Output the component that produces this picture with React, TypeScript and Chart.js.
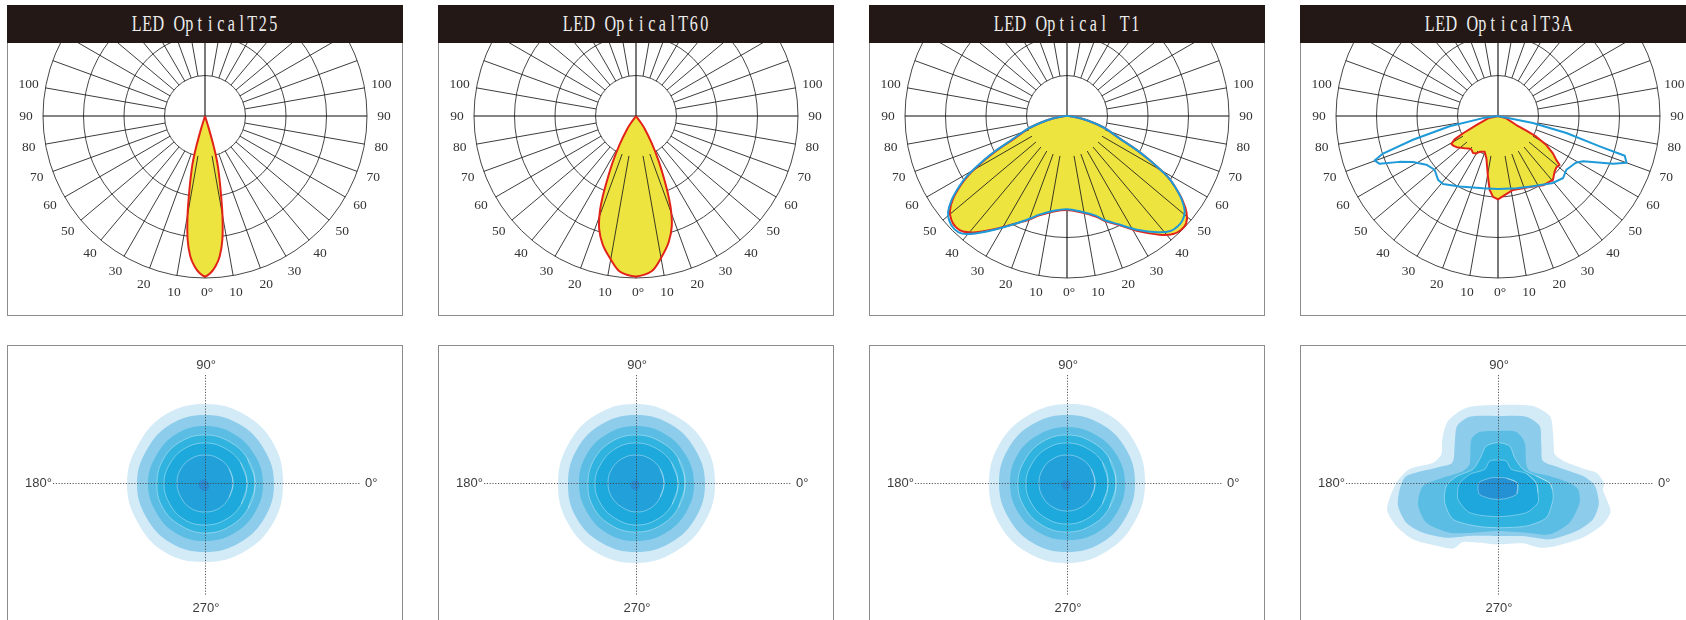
import React, { useEffect, useRef } from 'react';
import { Chart, registerables } from 'chart.js';

Chart.register(...registerables);

// ------------------------------------------------------------------
// DATA
// ------------------------------------------------------------------
const TITLES = ['LED OpticalT25', 'LED OpticalT60', 'LED Optical T1', 'LED OpticalT3A'];

// polar candela grid (top row), radial values in % of max
const POLAR_RINGS = [25, 50, 75, 100];
const POLAR_SPOKES = [10, 20, 30, 40, 50, 60, 70, 80, 100, 110, 120, 130, 140, 150, 160, 170,
  190, 200, 210, 220, 230, 240, 250, 260, 280, 290, 300, 310, 320, 330, 340, 350];
const POLAR_LABELS = [0, 10, 20, 30, 40, 50, 60, 70, 80, 90, 100];

// candela curves: angle from nadir (deg, + = right) and relative intensity
const T25_ANGLES = [-18, -17, -16, -15, -14, -12, -10, -8, -6, -4, -2, 0, 2, 4, 6, 8, 10, 12, 14, 15, 16, 17, 18];
const T25_C0 = [0, 8, 19, 28, 34, 46, 62, 77, 87, 93, 97, 99, 97, 93, 87, 77, 62, 46, 34, 28, 19, 8, 0];

const T60_ANGLES = [-40, -36, -34, -30, -27, -24.5, -22.5, -20.5, -18, -14.5, -10.5, -6, 0, 6, 10.5, 14.5, 18, 20.5, 22.5, 24.5, 27, 30, 34, 36, 40];
const T60_C0 = [0, 5, 10, 20, 31, 42, 53.5, 64, 73.5, 82, 89, 96.5, 99, 96, 88, 80.5, 71.5, 61.5, 51, 40.5, 30, 19.5, 10, 5, 0];

const T1_ANGLES = [-90, -85, -80, -76, -72, -67, -64, -62, -59, -57, -54, -51, -48, -45, -42, -38, -32, -25, -20, -16, -8,
  0, 8, 16, 20, 25, 32, 38, 42, 45, 48, 51, 54, 57, 59, 62, 64, 67, 72, 76, 80, 85, 90];
const T1_C0 = [0, 3, 9, 16, 25, 35, 48, 57, 71, 78, 87, 93, 96, 97, 96, 91, 82, 73, 68, 64, 59.5,
  58, 60, 64.5, 69, 74, 84, 93, 98, 99.5, 99, 95, 88, 79, 72, 57, 48, 35, 25, 16, 9, 3, 0];
const T1_C90 = [0, 3, 9, 16, 25.5, 36, 49, 58, 72, 79, 88, 94.5, 97.5, 98.5, 97.5, 92, 82.5, 73, 67.5, 63.5, 59,
  57.5, 59.5, 64, 68.5, 73.5, 83, 91, 95.5, 96.5, 96, 93.5, 87.5, 79, 72, 57, 48, 35, 25, 16, 9, 3, 0];

const T3A_C0_ANGLES = [-90, -77, -67.4, -63.7, -61.7, -59, -56, -53, -49, -46, -42, -38.7, -34, -30, -27, -20.5, -15.4, -9.4, -6.4, -3.5,
  0, 4.8, 11.5, 18, 24, 33, 40.7, 45.5, 48.5, 51.5, 53, 55.8, 59, 61.7, 62.6, 63.8, 74, 90];
const T3A_C0 = [0, 6.3, 14.5, 24, 30.4, 33.6, 33, 32, 30, 28.7, 27, 26.4, 27.5, 26.7, 24.8, 23.5, 27, 38, 46, 50,
  51.5, 49, 46.6, 47, 48, 51, 52, 49, 48, 48.6, 45, 41, 34.8, 26.9, 19.7, 12.6, 5.3, 0];
const T3A_C90_ANGLES = [-90, -82, -78, -74.4, -71.9, -70.2, -68, -65, -61.6, -55.8, -49.7, -43.3, -39, -28.6, -11.7,
  0, 14.3, 26.5, 39.4, 46.4, 51.8, 59, 62, 67.5, 70, 72.6, 73.4, 76, 78.7, 90];
const T3A_C90 = [0, 9.3, 30.5, 54.5, 74.7, 81, 78.8, 67, 59.7, 53.5, 51.3, 54, 54, 49.5, 45.6,
  45, 46, 48.5, 53.5, 55.5, 53.7, 56, 59.5, 77, 84.4, 82, 65.5, 43.5, 22, 0];

// isolux contours (bottom row): direction angles (deg) and radii, outer level first
const ISO_AXIS_LABELS = ['0°', '90°', '180°', '270°'];
const ISO_ANGLES = [0, 30, 60, 90, 120, 150, 180, 210, 240, 270, 300, 330];
const T25_ISO = [
  [78, 79, 79, 79, 79, 77, 78, 78, 80, 79, 79, 79],
  [69, 68, 68, 68, 68, 67, 68, 68, 69, 69, 69, 69],
  [58, 57, 57, 57, 57, 56, 57, 57, 58, 58, 58, 58],
  [50, 49, 48, 48, 48, 48, 48, 49, 49, 50, 50, 50],
  [42, 41, 40, 40, 40, 40, 41, 41, 42, 42, 42, 42],
  [28, 28, 28, 28, 28, 28, 28, 28, 29, 29, 29, 28],
  [3, 3, 3, 3, 4, 5, 6, 7, 8, 8, 7, 5],
];
const T60_ISO = [
  [79, 79, 78, 79, 79, 78, 78, 79, 80, 80, 79, 79],
  [69, 68, 68, 68, 68, 68, 68, 69, 69, 69, 69, 69],
  [58, 57, 57, 57, 57, 57, 57, 57, 58, 58, 58, 58],
  [49, 49, 48, 48, 48, 48, 48, 49, 49, 49, 49, 49],
  [42, 41, 40, 40, 40, 40, 41, 41, 41, 42, 42, 42],
  [28, 28, 28, 28, 28, 28, 28, 28, 28, 29, 29, 28],
  [3, 3, 3, 3, 3, 4, 5, 6, 7, 7, 6, 4],
];
const T1_ISO = [
  [78, 79, 80, 79, 78, 78, 78, 79, 80, 80, 79, 78],
  [68, 68, 68, 68, 68, 68, 68, 68, 69, 69, 69, 68],
  [58, 57, 56, 56, 56, 57, 57, 57, 57, 57, 58, 58],
  [49, 49, 48, 48, 48, 48, 49, 49, 49, 49, 49, 49],
  [41, 41, 40, 40, 40, 40, 41, 41, 41, 41, 41, 41],
  [28, 28, 28, 28, 28, 28, 28, 28, 28, 28, 28, 28],
  [3, 3, 3, 3, 3, 4, 5, 6, 7, 7, 6, 4],
];
const T3A_ISO_L1: [number, number][] = [[0, 106], [6, 99], [8.8, 89], [18.7, 69], [26.8, 63.5], [35, 68], [42.5, 74.6], [52, 84.6],
  [65.6, 84.6], [90, 78], [112.8, 81.7], [129, 79.7], [141.9, 70.8], [153, 63.5], [162.6, 68], [171, 89.4], [180, 101.7],
  [193.3, 114], [202.9, 110.4], [213.5, 102], [225.6, 88], [235.6, 79.6], [239.3, 68.6], [253, 62.4], [270, 61.3],
  [292.5, 65.3], [302.8, 77], [312.8, 85.8], [327.3, 101], [338.5, 112.8], [346, 116], [356.5, 105]];
const T3A_ISO_L2: [number, number][] = [[0, 95], [4.7, 85.3], [14, 63.5], [26, 50], [40.5, 57], [53.8, 70.6], [66.9, 72.1],
  [90, 67], [113, 72], [125.7, 70.2], [139.5, 57], [156, 50], [166, 63.5], [175.6, 92], [183.7, 98.5], [193, 102.6],
  [203.4, 99.9], [213.5, 90], [226.6, 75.2], [241.9, 60], [270, 53], [295, 58.6], [312.5, 76.4], [328.5, 91.9],
  [339, 101.7], [348.1, 103], [356.3, 98.5]];
const T3A_ISO_L3: [number, number][] = [[0, 71.7], [7.7, 52.1], [20.8, 33.9], [33.4, 33.9], [56.5, 48.4], [70.2, 54.2], [90, 52],
  [109.8, 54.2], [121.4, 51.2], [146.6, 34], [161, 37], [174.5, 55.3], [182.3, 75], [195, 82.8], [209, 81.9],
  [225.8, 69.3], [243.3, 55.6], [270, 48], [299.7, 57.2], [315.2, 72.8], [331, 81.9], [346.5, 84], [355.5, 80.3]];
const T3A_ISO_L4: [number, number][] = [[0, 51.7], [10.3, 39], [28.7, 28.5], [56.7, 30.3], [72.5, 38.8], [90, 40.3],
  [107.5, 38.8], [127.8, 30], [151.3, 28.5], [171.4, 42.1], [183.3, 51.8], [200.2, 56.8], [219, 57.8], [243.3, 48.2],
  [270, 44.7], [303.4, 51.5], [324.3, 59.5], [343.5, 57.4], [353.4, 54.7]];
const T3A_ISO_L5: [number, number][] = [[0, 38.3], [18.8, 29.9], [45.7, 19.1], [69.3, 23.5], [90, 23], [110.7, 23.5],
  [134.3, 19.1], [163, 29.6], [182, 39], [202.2, 43.2], [226.3, 41], [270, 33.7], [313.7, 41], [333.8, 44.6], [346.4, 41.1]];
const T3A_ISO_L6: [number, number][] = [[0, 19.3], [30, 9.7], [60, 6.4], [90, 5.3], [120, 6.4], [150, 9.7], [180, 19.3],
  [210, 21.8], [240, 17.7], [270, 16.3], [300, 17.7], [330, 21.8]];

// ------------------------------------------------------------------
// STYLE / LAYOUT
// ------------------------------------------------------------------
const YELLOW = '#EEE43F';
const RED = '#E2231A';
const BLUE = '#1E9AD8';
const ISO_COLORS = ['#D3EAF7', '#8DCDEB', '#5BBDE4', '#30B3DF', '#1EA9DC', '#22A0D9', '#2A8BD0'];
const T3A_ISO_COLORS = ['#D3EAF7', '#8DCDEB', '#5BBDE4', '#30B3DF', '#1EA7DC', '#2391D4'];
const PANEL_LEFT = [7, 438, 869, 1300];
const PANEL_W = 396;
const INNER_W = 394;
const TOP_H = 272;
const BOT_H = 274;
const BORDER = '1px solid #8c8c8c';

type Pt = { x: number; y: number };

const nadirToXY = (angles: number[], values: number[]): Pt[] =>
  angles.map((a, i) => {
    const t = (a * Math.PI) / 180;
    return { x: values[i] * Math.sin(t), y: -values[i] * Math.cos(t) };
  });

const isoToXY = (pairs: [number, number][]): Pt[] => {
  const pts = pairs.map(([a, r]) => {
    const t = (a * Math.PI) / 180;
    return { x: r * Math.cos(t), y: r * Math.sin(t) };
  });
  return [pts[pts.length - 1], ...pts, pts[0], pts[1]];
};

const zipIso = (vals: number[]): [number, number][] => ISO_ANGLES.map((a, i) => [a, vals[i]]);

function geom(chart: any) {
  const sx = chart.scales.x;
  const sy = chart.scales.y;
  const cx = sx.getPixelForValue(0);
  const cy = sy.getPixelForValue(0);
  const k = sx.getPixelForValue(1) - cx;
  return { cx, cy, k, sx, sy };
}

const polarGridPlugin = {
  id: 'polarGrid',
  beforeDatasetsDraw(chart: any) {
    const { ctx } = chart;
    const { cx, cy, k } = geom(chart);
    ctx.save();
    ctx.strokeStyle = '#262626';
    ctx.lineWidth = 0.85;
    POLAR_RINGS.forEach((r) => {
      ctx.beginPath();
      ctx.arc(cx, cy, r * k, 0, Math.PI * 2);
      ctx.stroke();
    });
    const R = POLAR_RINGS[POLAR_RINGS.length - 1] * k;
    ctx.strokeStyle = '#0d0d0d';
    ctx.lineWidth = 1.1;
    ctx.beginPath();
    ctx.moveTo(cx - R, cy);
    ctx.lineTo(cx + R, cy);
    ctx.moveTo(cx, cy - R);
    ctx.lineTo(cx, cy + R);
    ctx.stroke();
    ctx.restore();
  },
  afterDatasetDraw(chart: any, args: any) {
    const ds = chart.data.datasets[args.index];
    if (!ds || ds.role !== 'fill') return;
    const { ctx } = chart;
    const { cx, cy, k } = geom(chart);
    const r0 = POLAR_RINGS[0] * k;
    const R = POLAR_RINGS[POLAR_RINGS.length - 1] * k;
    ctx.save();
    ctx.strokeStyle = '#1a1a1a';
    ctx.lineWidth = 0.85;
    ctx.beginPath();
    POLAR_SPOKES.forEach((a) => {
      const t = (a * Math.PI) / 180;
      const s = Math.sin(t);
      const c = Math.cos(t);
      ctx.moveTo(cx + r0 * s, cy + r0 * c);
      ctx.lineTo(cx + R * s, cy + R * c);
    });
    ctx.stroke();
    ctx.restore();
  },
  afterDraw(chart: any) {
    const { ctx } = chart;
    const { cx, cy, k } = geom(chart);
    ctx.save();
    ctx.fillStyle = '#333';
    ctx.font = '13.5px "Liberation Serif", "DejaVu Serif", serif';
    ctx.textAlign = 'center';
    ctx.textBaseline = 'middle';
    POLAR_LABELS.forEach((v) => {
      if (v === 0) {
        ctx.fillText('0°', cx + 2, cy + 109 * k);
        return;
      }
      [v, -v].forEach((a) => {
        const t = (a * Math.PI) / 180;
        ctx.fillText(String(v), cx + 110.5 * k * Math.sin(t), cy + 110.5 * k * Math.cos(t));
      });
    });
    ctx.restore();
  },
};

const isoAxesPlugin = {
  id: 'isoAxes',
  afterDatasetsDraw(chart: any) {
    const { ctx } = chart;
    const { cx, cy, sx, sy } = geom(chart);
    ctx.save();
    ctx.strokeStyle = 'rgba(60,60,60,0.85)';
    ctx.lineWidth = 1;
    ctx.setLineDash([1.2, 1.6]);
    ctx.beginPath();
    ctx.moveTo(sx.getPixelForValue(-152), cy + 0.5);
    ctx.lineTo(sx.getPixelForValue(155), cy + 0.5);
    ctx.moveTo(cx + 0.5, sy.getPixelForValue(108));
    ctx.lineTo(cx + 0.5, sy.getPixelForValue(-112));
    ctx.stroke();
    ctx.setLineDash([]);
    ctx.fillStyle = '#3c3c3c';
    ctx.font = '13px "Liberation Sans", Arial, sans-serif';
    ctx.textBaseline = 'middle';
    ctx.textAlign = 'left';
    ctx.fillText(ISO_AXIS_LABELS[0], sx.getPixelForValue(160), cy);
    ctx.textAlign = 'center';
    ctx.fillText(ISO_AXIS_LABELS[1], cx + 1, sy.getPixelForValue(118));
    ctx.fillText(ISO_AXIS_LABELS[3], cx + 1, sy.getPixelForValue(-125));
    ctx.textAlign = 'right';
    ctx.fillText(ISO_AXIS_LABELS[2], sx.getPixelForValue(-153), cy);
    ctx.restore();
  },
};

const baseOptions = (xmin: number, xmax: number, ymin: number, ymax: number) => ({
  animation: false as const,
  responsive: false,
  events: [] as any[],
  layout: { padding: 0 },
  plugins: { legend: { display: false }, tooltip: { enabled: false } },
  elements: { point: { radius: 0 } },
  scales: {
    x: { type: 'linear' as const, display: false, min: xmin, max: xmax, bounds: 'data' as const },
    y: { type: 'linear' as const, display: false, min: ymin, max: ymax, bounds: 'data' as const },
  },
});

interface TopSpec {
  c0Angles: number[];
  c0: number[];
  c90Angles?: number[];
  c90?: number[];
  tension: number;
}

const TOP_SPECS: TopSpec[] = [
  { c0Angles: T25_ANGLES, c0: T25_C0, tension: 0.25 },
  { c0Angles: T60_ANGLES, c0: T60_C0, tension: 0.3 },
  { c0Angles: T1_ANGLES, c0: T1_C0, c90Angles: T1_ANGLES, c90: T1_C90, tension: 0.3 },
  { c0Angles: T3A_C0_ANGLES, c0: T3A_C0, c90Angles: T3A_C90_ANGLES, c90: T3A_C90, tension: 0 },
];

const BOTTOM_LAYERS: { layers: [number, number][][]; colors: string[]; tension: number }[] = [
  { layers: T25_ISO.map(zipIso), colors: ISO_COLORS, tension: 0.4 },
  { layers: T60_ISO.map(zipIso), colors: ISO_COLORS, tension: 0.4 },
  { layers: T1_ISO.map(zipIso), colors: ISO_COLORS, tension: 0.4 },
  { layers: [T3A_ISO_L1, T3A_ISO_L2, T3A_ISO_L3, T3A_ISO_L4, T3A_ISO_L5, T3A_ISO_L6], colors: T3A_ISO_COLORS, tension: 0.25 },
];

function topConfig(spec: TopSpec): any {
  const U = 1.62; // px per % unit (outer ring = 162px)
  const CX = 197;
  const CY = 73;
  const datasets: any[] = [
    {
      role: 'fill', data: nadirToXY(spec.c0Angles, spec.c0), backgroundColor: YELLOW, borderColor: 'transparent',
      borderWidth: 0, fill: 'shape', order: 3, tension: spec.tension, pointRadius: 0,
    },
    {
      role: 'c0', data: nadirToXY(spec.c0Angles, spec.c0), borderColor: RED, borderWidth: 2,
      fill: false, order: 2, tension: spec.tension, pointRadius: 0, borderJoinStyle: 'round',
    },
  ];
  if (spec.c90 && spec.c90Angles) {
    datasets.push({
      role: 'c90', data: nadirToXY(spec.c90Angles, spec.c90), borderColor: BLUE, borderWidth: 2,
      fill: false, order: 1, tension: spec.tension, pointRadius: 0, borderJoinStyle: 'round',
    });
  }
  return {
    type: 'line',
    data: { datasets },
    options: baseOptions(-CX / U, (INNER_W - CX) / U, -(TOP_H - CY) / U, CY / U),
    plugins: [polarGridPlugin],
  };
}

function bottomConfig(b: { layers: [number, number][][]; colors: string[]; tension: number }): any {
  const CX = 197;
  const CY = 137;
  const datasets = b.layers.map((pairs, i) => ({
    data: isoToXY(pairs),
    backgroundColor: b.colors[i],
    borderColor: i >= 3 && i <= 5 ? 'rgba(255,255,255,0.45)' : 'transparent',
    borderWidth: i >= 3 && i <= 5 ? 0.8 : 0,
    fill: 'shape',
    tension: b.tension,
    pointRadius: 0,
    order: 100 - i,
  }));
  return {
    type: 'line',
    data: { datasets },
    options: baseOptions(-CX, INNER_W - CX, -(BOT_H - CY), CY),
    plugins: [isoAxesPlugin],
  };
}

function ChartCanvas({ make, width, height }: { make: () => any; width: number; height: number }) {
  const ref = useRef<HTMLCanvasElement>(null);
  useEffect(() => {
    if (!ref.current) return;
    const chart = new Chart(ref.current, make());
    return () => chart.destroy();
  }, []);
  return <canvas ref={ref} width={width} height={height} style={{ display: 'block', width, height }} />;
}

function Title({ text }: { text: string }) {
  // serif glyphs set in equal-width cells, horizontally condensed (like the reference's half-width serif face)
  return (
    <span
      aria-label={text}
      style={{
        display: 'inline-flex', fontFamily: '"Liberation Serif", "DejaVu Serif", serif', fontSize: 23,
        color: '#ececec', transform: 'scaleX(0.7)', whiteSpace: 'pre', lineHeight: '38px',
      }}
    >
      {text.split('').map((ch, j) => (
        <span key={j} style={{ display: 'inline-block', width: 15, textAlign: 'center' }}>
          {ch}
        </span>
      ))}
    </span>
  );
}

function TopPanel({ i }: { i: number }) {
  return (
    <div style={{ position: 'absolute', left: PANEL_LEFT[i], top: 5, width: PANEL_W, height: 311 }}>
      <div
        style={{
          position: 'absolute', left: 0, top: 0, width: PANEL_W, height: 38, background: '#231815',
          display: 'flex', alignItems: 'center', justifyContent: 'center', overflow: 'hidden',
        }}
      >
        <Title text={TITLES[i]} />
      </div>
      <div
        style={{
          position: 'absolute', left: 0, top: 38, width: PANEL_W, height: 273, boxSizing: 'border-box',
          borderLeft: BORDER, borderRight: BORDER, borderBottom: BORDER, overflow: 'hidden',
        }}
      >
        <ChartCanvas make={() => topConfig(TOP_SPECS[i])} width={INNER_W} height={TOP_H} />
      </div>
    </div>
  );
}

function BottomPanel({ i }: { i: number }) {
  return (
    <div
      style={{
        position: 'absolute', left: PANEL_LEFT[i], top: 345, width: PANEL_W, height: 275, boxSizing: 'border-box',
        borderLeft: BORDER, borderRight: BORDER, borderTop: BORDER, overflow: 'hidden',
      }}
    >
      <ChartCanvas make={() => bottomConfig(BOTTOM_LAYERS[i])} width={INNER_W} height={BOT_H} />
    </div>
  );
}

export default function App() {
  return (
    <div
      style={{
        position: 'fixed', left: 0, top: 0, width: 1686, height: 620, overflow: 'hidden', background: '#ffffff',
      }}
    >
      {[0, 1, 2, 3].map((i) => (
        <React.Fragment key={i}>
          <TopPanel i={i} />
          <BottomPanel i={i} />
        </React.Fragment>
      ))}
    </div>
  );
}
